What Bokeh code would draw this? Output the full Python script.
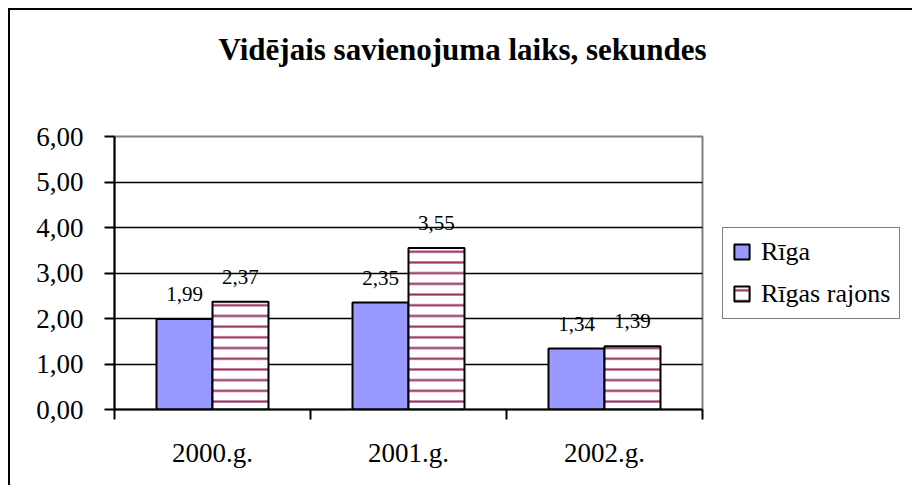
from bokeh.plotting import figure
from bokeh.layouts import column
from bokeh.models import (ColumnDataSource, Range1d, FixedTicker, Title,
                          CustomJSTickFormatter, LabelSet, Legend, LegendItem)
from bokeh.embed import file_html
from bokeh.resources import INLINE

title_text = "Vidējais savienojuma laiks, sekundes"
categories = ["2000.g.", "2001.g.", "2002.g."]
series_names = ["Rīga", "Rīgas rajons"]
riga = [1.99, 2.35, 1.34]
riga_rajons = [2.37, 3.55, 1.39]
y_ticks = [0, 1, 2, 3, 4, 5, 6]


def fmt(v):
    return f"{v:.2f}".replace(".", ",")


n = len(categories)
bw = 0.2857          # bar width as fraction of a category slot
off = bw / 2
centers = [i + 0.5 for i in range(n)]

src = ColumnDataSource(dict(cat=categories,
                            x1=[c - off for c in centers], x2=[c + off for c in centers],
                            riga=riga, raj=riga_rajons,
                            riga_lbl=[fmt(v) for v in riga],
                            raj_lbl=[fmt(v) for v in riga_rajons]))

FONT = "Liberation Serif"

p = figure(frame_width=586, frame_height=271,
           x_range=Range1d(0, n),
           y_range=Range1d(y_ticks[0], y_ticks[-1]),
           output_backend="svg", toolbar_location=None,
           min_border_left=104, min_border_right=200,
           min_border_top=126, min_border_bottom=78)
p.title = None
p.styles = {"border-left": "2px solid black", "border-top": "2px solid black"}
p.background_fill_color = "white"
p.border_fill_color = "white"
p.outline_line_color = "#808080"
p.outline_line_width = 2
p.xgrid.visible = False

# spacer (closest to the plot) and the real title above it
p.add_layout(Title(text=" ", text_font_size="1px", standoff=48), "above")
p.add_layout(Title(text=title_text, align="left", offset=104, standoff=38,
                   text_font=FONT, text_font_size="31px", text_font_style="bold",
                   text_color="black"), "above")

# y axis
ya = p.yaxis[0]
ya.ticker = FixedTicker(ticks=y_ticks)
ya.formatter = CustomJSTickFormatter(code="return tick.toFixed(2).replace('.', ',');")
ya.major_tick_in = 0
ya.major_tick_out = 10
ya.major_tick_line_width = 2
ya.minor_tick_line_color = None
ya.axis_line_width = 2
ya.major_label_standoff = 21
ya.major_label_text_font = FONT
ya.major_label_text_font_size = "27px"
ya.major_label_text_color = "black"

p.ygrid[0].ticker = ya.ticker
p.ygrid[0].grid_line_color = "black"
p.ygrid[0].grid_line_width = 1.5

# x axis: labels at category centres, tick marks at category boundaries
xa = p.xaxis[0]
xa.ticker = FixedTicker(ticks=centers, minor_ticks=list(range(n + 1)))
xa.formatter = CustomJSTickFormatter(args=dict(labels=categories),
                                     code="return labels[Math.floor(tick)];")
xa.major_tick_in = 0
xa.major_tick_out = 0
xa.major_tick_line_color = None
xa.minor_tick_in = 0
xa.minor_tick_out = 10
xa.minor_tick_line_color = "black"
xa.minor_tick_line_width = 2
xa.axis_line_width = 2
xa.major_label_standoff = 18
xa.major_label_text_font = FONT
xa.major_label_text_font_size = "27px"
xa.major_label_text_color = "black"

r1 = p.vbar(x="x1", top="riga", width=bw, source=src,
            fill_color="#9999FF", line_color="black", line_width=2)
r2 = p.vbar(x="x2", top="raj", width=bw, source=src,
            fill_color="white", hatch_pattern="horizontal_line", hatch_color="#993366",
            hatch_weight=2.2, hatch_scale=10.7, line_color="black", line_width=2)

for xcol, col, lbl in (("x1", "riga", "riga_lbl"), ("x2", "raj", "raj_lbl")):
    p.add_layout(LabelSet(x=xcol, y=col, text=lbl, source=src,
                          text_align="center", text_baseline="bottom", y_offset=18,
                          text_font=FONT, text_font_size="21px", text_color="black"))

legend = Legend(items=[LegendItem(label=series_names[0], renderers=[r1]),
                       LegendItem(label=series_names[1], renderers=[r2])],
                location="center_left", margin=20, padding=9, spacing=12,
                glyph_width=19, glyph_height=19, label_standoff=10,
                label_text_font=FONT, label_text_font_size="26px",
                label_text_color="black",
                border_line_color="black", border_line_width=1.5,
                background_fill_color="white", background_fill_alpha=1)
p.add_layout(legend, "right")

page = column(p, styles={"padding-left": "8px", "padding-top": "8px"})

open("out.html", "w").write(file_html(page, INLINE))
